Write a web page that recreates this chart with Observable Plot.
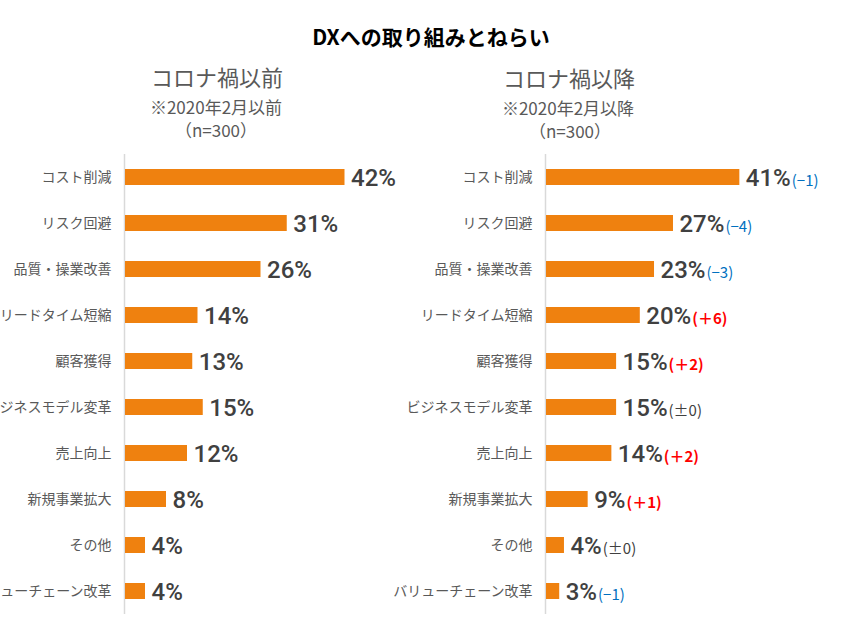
<!DOCTYPE html>
<html><head><meta charset="utf-8">
<script src="https://cdn.jsdelivr.net/npm/d3@7"></script>
<script src="https://cdn.jsdelivr.net/npm/@observablehq/plot@0.6"></script>
<style>
body{margin:0;background:#fff;width:850px;height:618px;position:relative;overflow:hidden;font-family:"Noto Sans CJK JP",sans-serif;}
.t{position:absolute;transform:translate(-50%,-50%);white-space:nowrap;color:#595959;line-height:1;}
.p{position:absolute;top:150px;}
</style></head><body>
<div class="t" style="left:431px;top:36px;font-size:21px;font-weight:bold;color:#000;">DXへの取り組みとねらい</div>
<div class="t" style="left:217px;top:76px;font-size:22px;">コロナ禍以前</div>
<div class="t" style="left:216px;top:106px;font-size:17px;">※2020年2月以前</div>
<div class="t" style="left:216px;top:129px;font-size:17px;">（n=300）</div>
<div class="t" style="left:569px;top:77px;font-size:22px;">コロナ禍以降</div>
<div class="t" style="left:568px;top:107px;font-size:17px;">※2020年2月以降</div>
<div class="t" style="left:570px;top:130px;font-size:17px;">（n=300）</div>
<div class="p" id="left" style="left:0px;"></div>
<div class="p" id="right" style="left:420px;"></div>
<script>
const categories = ["コスト削減","リスク回避","品質・操業改善","リードタイム短縮","顧客獲得","ビジネスモデル変革","売上向上","新規事業拡大","その他","バリューチェーン改革"];
const before = [42,31,26,14,13,15,12,8,4,4];
const after = [41,27,23,20,15,15,14,9,4,3];
const change = [-1,-4,-3,6,2,0,2,1,0,-1];

function panel(values, width, ml, mr) {
  const data = categories.map((c, i) => ({c, v: values[i], i}));
  return Plot.plot({
    width, height: 468, marginTop: 4, marginBottom: 4, marginLeft: ml, marginRight: mr,
    style: {fontSize: "14px", fontFamily: "'Noto Sans CJK JP', sans-serif", color: "#595959", background: "transparent", overflow: "visible"},
    x: {domain: [0, 50], axis: null},
    y: {domain: categories, paddingInner: 0.65, paddingOuter: 0.325, tickSize: 0, tickPadding: 13, label: null},
    marks: [
      Plot.ruleX([0], {stroke: "#d9d9d9", strokeWidth: 1.5}),
      Plot.barX(data, {x: "v", y: "c", fill: "#EF810F", insetLeft: 1}),
      Plot.text(data, {x: "v", y: "c", text: d => d.v + "%", textAnchor: "start", dx: 6, dy: 1,
        fontSize: 24, fontWeight: 500, fill: "#404040", fontFamily: "Roboto, 'Liberation Sans', sans-serif"})
    ]
  });
}

const L = panel(before, 420, 124, 420 - 124 - 262.5);
document.getElementById("left").appendChild(L);
const R = panel(after, 430, 125, 430 - 125 - 237);
document.getElementById("right").appendChild(R);

const fmt = v => v < 0 ? "(−" + Math.abs(v) + ")" : v > 0 ? "(＋" + v + ")" : "(±0)";
const col = v => v < 0 ? "#0070C0" : v > 0 ? "#FF0000" : "#404040";
d3.select(R).selectAll('g[aria-label="text"] text').each(function(_, k) {
  const v = change[k];
  d3.select(this).append("tspan")
    .attr("font-size", 15)
    .attr("dx", 1)
    .attr("font-family", "'Noto Sans CJK JP', sans-serif")
    .attr("font-weight", v > 0 ? "bold" : "normal")
    .attr("fill", col(v))
    .text(fmt(v));
});
</script>
</body></html>
